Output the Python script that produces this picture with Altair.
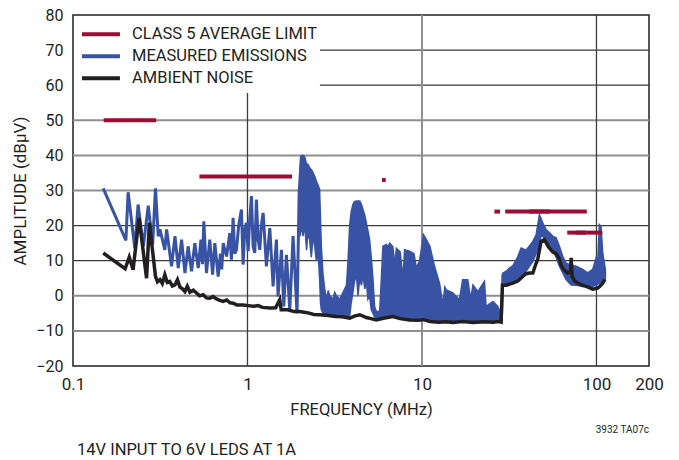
import altair as alt
import pandas as pd

FONT = "Roboto"
RED = "#9b0d35"
BLUE = "#3953a4"
BLACK = "#231f20"
GRID_GRAY = "#8f8f8f"
GRID_DARK = "#3c3c3c"

# ---- series names (legend order) ----
series_names = ["CLASS 5 AVERAGE LIMIT", "MEASURED EMISSIONS", "AMBIENT NOISE"]
series_colors = [RED, BLUE, BLACK]

# ---- CLASS 5 average limit segments (MHz start, MHz end, dBuV) ----
lim_f1 = [0.15, 0.53, 5.9, 26.0, 30.0, 41.0, 68.0, 76.0]
lim_f2 = [0.30, 1.8, 6.2, 28.0, 54.0, 88.0, 87.0, 108.0]
lim_v = [50, 34, 33, 24, 24, 24, 18, 18]

# ---- measured emissions, low-frequency trace ----
meas_f = [0.149, 0.201, 0.207, 0.226, 0.236, 0.253, 0.270, 0.286, 0.297, 0.308,
          0.315, 0.336, 0.344, 0.367, 0.384, 0.401, 0.419, 0.438, 0.457, 0.478,
          0.499, 0.522, 0.541, 0.552, 0.562, 0.582, 0.608, 0.631, 0.650, 0.679,
          0.700, 0.712, 0.726, 0.759, 0.792, 0.809, 0.827, 0.845, 0.865, 0.890,
          0.923, 0.944, 0.965, 0.986, 1.009, 1.030, 1.054, 1.077, 1.101, 1.125,
          1.150, 1.176, 1.200, 1.229, 1.284, 1.342, 1.402, 1.465, 1.497, 1.565,
          1.614, 1.672, 1.747, 1.825, 1.923, 1.977, 2.037]
meas_v = [30.6, 15.8, 29.5, 13.6, 26.0, 14.1, 25.7, 14.6, 30.6, 16.9,
          18.9, 13.1, 18.9, 8.4, 17.0, 7.9, 16.0, 6.5, 14.1, 7.0,
          15.0, 7.9, 16.0, 9.0, 21.2, 6.5, 16.0, 6.0, 15.0, 5.5,
          12.0, 7.5, 15.0, 11.2, 17.9, 10.3, 22.2, 12.0, 13.1, 20.0,
          24.6, 8.9, 19.0, 20.8, 12.7, 22.0, 28.4, 14.0, 12.2, 27.4,
          16.0, 13.1, 20.0, 23.6, 8.4, 19.3, 2.7, 16.0, -0.2, 13.1,
          -3.0, 11.7, -4.0, 17.0, -5.0, 29.3, 39.8]

# ---- measured emissions, dense band (MHz, upper dBuV, lower dBuV) ----
band_f = [2.00, 2.04, 2.08, 2.13, 2.18, 2.22, 2.27, 2.32, 2.38, 2.43,
          2.48, 2.54, 2.59, 2.62, 2.65, 2.71, 2.77, 2.83, 2.90, 2.96,
          3.09, 3.16, 3.23, 3.38, 3.53, 3.69, 3.77, 3.85, 3.93, 4.02,
          4.10, 4.21, 4.30, 4.40, 4.50, 4.59, 4.70, 4.80, 4.90, 5.01,
          5.12, 5.24, 5.35, 5.47, 5.72, 5.85, 5.97, 6.25, 6.40, 6.53,
          6.80, 7.00, 7.13, 7.50, 7.78, 7.95, 8.49, 9.00, 9.27, 9.69,
          10.2, 10.6, 11.1, 11.8, 12.6, 13.2, 13.5, 13.8, 15.0, 16.4,
          17.1, 18.3, 19.0, 19.6, 20.9, 22.8, 23.3, 25.5, 27.2, 28.4,
          28.8, 29.1, 30.4, 31.7, 33.1, 34.7, 35.4, 37.0, 39.5, 43.2,
          45.1, 47.1, 48.1, 49.2, 51.4, 53.7, 56.1, 58.7, 61.3, 64.1,
          67.0, 71.6, 76.4, 83.4, 89.1, 95.1, 99.5, 101.6, 103.9, 106.2,
          108.6, 112.5]
band_hi = [36.0, 40.0, 40.0, 39.5, 37.5, 37.5, 36.5, 36.0, 35.0, 34.0,
           32.7, 31.5, 30.3, 22.0, 14.0, 6.0, 2.0, -1.0, 1.5, 0.0,
           -1.0, 1.0, 0.0, -1.0, 1.0, 3.0, 10.0, 20.0, 24.0, 26.0,
           26.8, 27.0, 27.0, 27.0, 26.0, 24.6, 23.0, 20.8, 18.5, 16.0,
           11.0, 4.6, -3.0, -4.5, -4.5, 5.0, 14.1, 14.6, 14.0, 15.0,
           14.0, 9.0, 13.5, 12.5, 5.0, 13.1, 12.7, 12.0, 8.0, 10.0,
           17.4, 16.0, 14.1, 8.4, 3.6, -2.6, 2.5, 1.7, 0.8, -1.1,
           4.6, 4.6, -1.0, 3.1, 1.2, 4.1, -3.0, -1.6, -3.0, -5.5,
           6.0, 6.5, 7.0, 7.9, 8.5, 10.3, 11.2, 13.6, 13.0, 15.5,
           17.4, 23.1, 22.0, 20.8, 18.9, 18.0, 17.0, 16.5, 14.1, 11.2,
           9.3, 8.8, 8.4, 7.5, 6.5, 7.5, 10.8, 9.3, 20.3, 19.8,
           12.2, 7.5]
band_lo = [17.0, 20.0, 17.0, 20.0, 13.0, 18.0, 16.0, 11.0, 17.0, 14.0,
           10.0, 12.0, 5.0, -2.0, -4.0, -5.0, -5.0, -5.0, -5.5, -5.5,
           -5.5, -5.5, -5.5, -5.8, -6.0, -6.0, -6.0, -6.0, -2.0, 1.0,
           4.0, 6.0, 0.0, 5.0, 3.0, 6.0, 2.0, 4.0, -1.0, 0.0,
           -4.0, -5.0, -6.0, -6.5, -6.5, -6.5, -6.0, -6.0, -6.0, -6.0,
           -6.0, -6.0, -6.0, -6.0, -6.3, -6.3, -6.5, -6.5, -6.5, -6.8,
           -7.0, -7.0, -7.0, -7.3, -7.3, -7.3, -7.3, -7.3, -7.3, -7.3,
           -7.3, -7.3, -7.3, -7.3, -7.3, -7.3, -7.3, -7.3, -7.3, -7.3,
           -7.3, 3.1, 3.0, 3.5, 3.6, 4.5, 5.0, 5.5, 7.0, 9.8,
           12.0, 15.0, 17.0, 17.0, 15.5, 14.5, 13.1, 11.0, 8.4, 6.5,
           4.6, 3.1, 3.0, 2.7, 2.7, 2.7, 3.0, 3.3, 3.6, 4.0,
           4.0, 4.5]

# ---- ambient noise ----
amb_f = [0.149, 0.199, 0.210, 0.221, 0.239, 0.264, 0.274, 0.297, 0.305, 0.315,
         0.325, 0.336, 0.347, 0.359, 0.371, 0.384, 0.397, 0.410, 0.424, 0.438,
         0.452, 0.468, 0.489, 0.510, 0.532, 0.557, 0.582, 0.608, 0.635, 0.664,
         0.694, 0.725, 0.760, 0.795, 0.827, 0.868, 0.944, 1.010, 1.077, 1.15,
         1.22, 1.34, 1.45, 1.53, 1.56, 1.70, 1.85, 1.99, 2.20, 2.40,
         2.59, 2.90, 3.20, 3.50, 3.85, 4.10, 4.40, 4.80, 5.10, 5.47,
         6.00, 6.80, 7.50, 8.49, 9.50, 10.2, 11.1, 12.5, 13.8, 15.0,
         17.1, 19.6, 22.8, 25.5, 27.6, 28.4, 28.9, 30.4, 33.1, 35.4,
         37.8, 39.5, 41.3, 43.2, 44.5, 46.1, 48.1, 50.3, 53.0, 56.1,
         58.7, 61.3, 63.0, 65.0, 68.4, 71.0, 71.6, 72.5, 75.0, 78.2,
         83.0, 87.2, 91.0, 95.1, 101.6, 105.0, 108.6, 111.5]
amb_v = [12.2, 7.7, 11.0, 7.4, 22.2, 5.0, 20.8, 5.5, 4.0, 4.6,
         3.5, 6.0, 3.8, 4.1, 2.8, 3.1, 4.6, 2.5, 2.0, 1.2,
         2.7, 1.0, 1.6, 0.8, 0.0, 0.3, -0.6, -0.7, -0.2, -0.9,
         -1.3, -1.6, -1.2, -2.0, -2.1, -2.6, -2.6, -2.8, -3.0, -2.8,
         -3.3, -3.5, -3.4, -1.1, -4.0, -4.0, -4.5, -4.5, -4.8, -5.3,
         -5.4, -5.6, -5.9, -6.0, -6.4, -5.8, -5.4, -6.2, -6.5, -6.9,
         -6.4, -5.9, -6.5, -6.9, -7.0, -6.8, -7.3, -7.5, -7.4, -7.6,
         -7.3, -7.6, -7.4, -7.5, -7.3, -7.5, 3.0, 3.0, 3.6, 4.2,
         5.5, 6.3, 6.5, 6.5, 8.5, 10.5, 15.5, 16.0, 14.0, 12.5,
         12.0, 10.5, 8.5, 7.5, 6.5, 6.8, 10.8, 5.5, 4.2, 3.6,
         3.0, 2.7, 2.3, 1.9, 2.2, 2.8, 3.6, 4.6]

# ---- axes / grid ----
x_ticks = [0.1, 1, 10, 100, 200]
y_ticks = [-20, -10, 0, 10, 20, 30, 40, 50, 60, 70, 80]
# horizontal grid lines (level, start MHz, end MHz)
hgray_v = [-10, 0, 30, 40, 50]
hgray_f1 = [0.1, 0.1, 0.1, 0.1, 0.1]
hgray_f2 = [200, 200, 200, 200, 200]
hdark_v = [10, 20, 60, 70]
hdark_f1 = [0.1, 0.1, 2.6, 2.6]
hdark_f2 = [200, 200, 200, 200]
# vertical grid lines (MHz, bottom, top)
vgray_f = [10]
vgray_v1 = [-20]
vgray_v2 = [80]
vdark_f = [1, 100]
vdark_v1 = [-20, -20]
vdark_v2 = [57.8, 80]

# ---- texts ----
x_title = "FREQUENCY (MHz)"
y_title = "AMPLITUDE (dBµV)"
footer_code = ["3932 TA07c"]
footer_caption = ["14V INPUT TO 6V LEDS AT 1A"]

# ---- tables ----
lim_df = pd.DataFrame({"f1": lim_f1, "f2": lim_f2, "v": lim_v, "s": series_names[0]})
meas_df = pd.DataFrame({"f": meas_f, "v": meas_v, "s": series_names[1]})
band_df = pd.DataFrame({"f": band_f, "hi": band_hi, "lo": band_lo})
amb_df = pd.DataFrame({"f": amb_f, "v": amb_v, "s": series_names[2]})

xscale = alt.Scale(type="log", domain=[0.1, 200], nice=False)
yscale = alt.Scale(domain=[-20, 80], nice=False)
cscale = alt.Scale(domain=series_names, range=series_colors)

xaxis = alt.Axis(values=x_ticks, format="~g", title=x_title, grid=False,
                 ticks=False, domain=False, labelPadding=10, titlePadding=9,
                 labelFontSize=17, titleFontSize=16.5, titleFontWeight="normal",
                 labelFont=FONT, titleFont=FONT, labelFlush=False,
                 labelColor=BLACK, titleColor=BLACK)
yaxis = alt.Axis(values=y_ticks, format="d", title=y_title, grid=False,
                 ticks=False, domain=False, labelPadding=10, titlePadding=6,
                 labelFontSize=16, titleFontSize=17, titleFontWeight="normal",
                 labelFont=FONT, titleFont=FONT,
                 labelColor=BLACK, titleColor=BLACK)

legend = alt.Legend(
    orient="none", legendX=-2, legendY=3.5, padding=7.5,
    title=None, symbolType="M-1,0H7", symbolSize=90, symbolStrokeWidth=4,
    labelFontSize=16.5, labelFont=FONT, labelColor=BLACK, rowPadding=5,
    labelOffset=37, labelLimit=400,
)

color = alt.Color("s:N", scale=cscale, legend=legend, sort=series_names)


def hgrid(vals, f1, f2, col, w):
    df = pd.DataFrame({"v": vals, "f1": f1, "f2": f2})
    return alt.Chart(df).mark_rule(color=col, strokeWidth=w).encode(
        x=alt.X("f1:Q", scale=xscale, axis=xaxis), x2="f2:Q",
        y=alt.Y("v:Q", scale=yscale, axis=yaxis),
    )


def vgrid(vals, v1, v2, col, w):
    df = pd.DataFrame({"f": vals, "v1": v1, "v2": v2})
    return alt.Chart(df).mark_rule(color=col, strokeWidth=w).encode(
        x=alt.X("f:Q", scale=xscale, axis=xaxis),
        y=alt.Y("v1:Q", scale=yscale, axis=yaxis), y2="v2:Q",
    )


grids = [
    hgrid(hgray_v, hgray_f1, hgray_f2, GRID_GRAY, 2),
    hgrid(hdark_v, hdark_f1, hdark_f2, GRID_DARK, 1.3),
    vgrid(vgray_f, vgray_v1, vgray_v2, GRID_GRAY, 2),
    vgrid(vdark_f, vdark_v1, vdark_v2, GRID_DARK, 1.3),
]

band = alt.Chart(band_df).mark_area(
    color=BLUE, stroke=BLUE, strokeWidth=1.5, interpolate="linear"
).encode(
    x=alt.X("f:Q", scale=xscale, axis=xaxis),
    y=alt.Y("hi:Q", scale=yscale, axis=yaxis),
    y2="lo:Q",
)

meas = alt.Chart(meas_df).mark_line(strokeWidth=3, strokeJoin="miter").encode(
    x=alt.X("f:Q", scale=xscale, axis=xaxis),
    y=alt.Y("v:Q", scale=yscale, axis=yaxis),
    color=color,
)

amb = alt.Chart(amb_df).mark_line(strokeWidth=3.5).encode(
    x=alt.X("f:Q", scale=xscale, axis=xaxis),
    y=alt.Y("v:Q", scale=yscale, axis=yaxis),
    color=color,
)

lim = alt.Chart(lim_df).mark_rule(strokeWidth=4, strokeCap="butt").encode(
    x=alt.X("f1:Q", scale=xscale, axis=xaxis),
    x2="f2:Q",
    y=alt.Y("v:Q", scale=yscale, axis=yaxis),
    color=color,
)

code_txt = alt.Chart(pd.DataFrame({"t": footer_code})).mark_text(
    align="right", baseline="alphabetic", fontSize=10, font=FONT, color=BLACK
).encode(text="t:N", x=alt.value(576), y=alt.value(418))

cap_txt = alt.Chart(pd.DataFrame({"t": footer_caption})).mark_text(
    align="left", baseline="alphabetic", fontSize=16.5, font=FONT, color=BLACK
).encode(text="t:N", x=alt.value(4), y=alt.value(440))

chart = alt.layer(*grids, band, meas, amb, lim, code_txt, cap_txt).properties(
    width=576, height=351,
    background="white",
    autosize=alt.AutoSizeParams(type="none"),
    padding={"left": 65, "top": 7, "right": 22, "bottom": 94},
).configure_view(
    stroke=BLACK, strokeWidth=1.5
)

chart.save("out.html", embed_options={"renderer": "svg", "actions": False})
